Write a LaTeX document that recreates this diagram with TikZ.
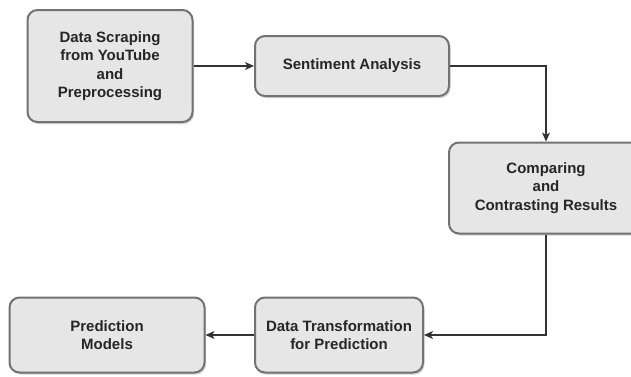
\documentclass[tikz,border=0pt]{standalone}
\usepackage{fontspec}
\setmainfont{Liberation Sans}
\usetikzlibrary{arrows.meta,shadows}
\definecolor{boxfill}{HTML}{E6E6E6}
\definecolor{boxdraw}{HTML}{727272}
\definecolor{linec}{HTML}{333333}
\tikzset{
  stepbox/.style={draw=boxdraw, line width=2pt, fill=boxfill, rounded corners=10pt,
    align=center, inner sep=2pt, text=black!85,
    font=\fontsize{15}{18.3}\selectfont\bfseries,
    drop shadow={shadow xshift=1.5pt, shadow yshift=-2pt, fill=black!35, opacity=0.5}},
  flow/.style={draw=linec, line width=1.2pt, -{Stealth[length=9pt,width=8pt,inset=2.5pt]}}
}
\begin{document}
\begin{tikzpicture}[x=1pt,y=-1pt]
\useasboundingbox (0,0) rectangle (631,376);
\begin{scope}
\clip (0,0) rectangle (631,376);
\node[stepbox, minimum width=165pt, minimum height=112pt] (scrape) at (110,66)
  {Data Scraping\\from YouTube\\and\\Preprocessing};
\node[stepbox, minimum width=194pt, minimum height=60pt] (senti) at (352,66)
  {Sentiment Analysis};
\node[stepbox, minimum width=194pt, minimum height=91pt] (comp) at (546,188)
  {Comparing\\and\\Contrasting Results};
\node[stepbox, minimum width=168pt, minimum height=75pt] (trans) at (339,335)
  {Data Transformation\\for Prediction};
\node[stepbox, minimum width=195pt, minimum height=75pt] (pred) at (107,335)
  {Prediction\\Models};
\draw[flow] (scrape.east |- senti.west) -- (senti.west);
\draw[flow] (senti.east) -| (comp.north);
\draw[flow] (comp.south) |- (trans.east);
\draw[flow] (trans.west) -- (pred.east);
\end{scope}
\end{tikzpicture}
\end{document}
